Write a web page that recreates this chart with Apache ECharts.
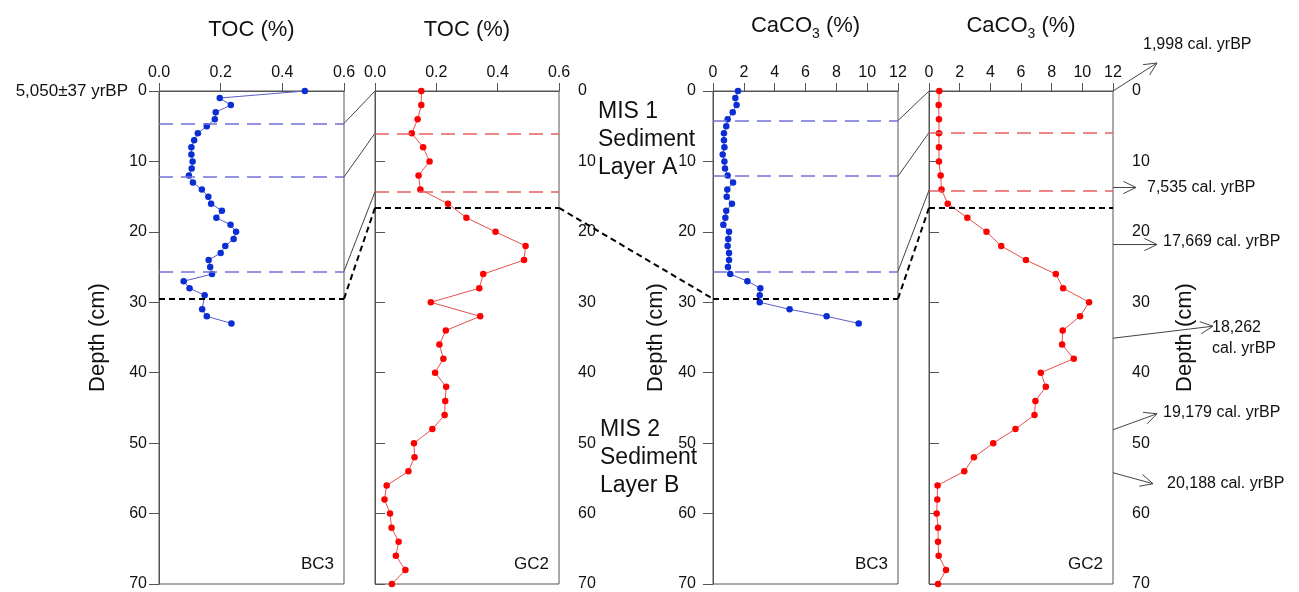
<!DOCTYPE html>
<html>
<head>
<meta charset="utf-8">
<script src="https://cdn.jsdelivr.net/npm/echarts@6/dist/echarts.min.js"></script>
<style>
html,body{margin:0;padding:0;background:#fff;}
#c{width:1299px;height:592px;}
</style>
</head>
<body>
<div id="c"></div>
<script>
// ---------- DATA ----------
const tocBC3Depth = [0,1,2,3,4,5,6,7,8,9,10,11,12,13,14,15,16,17,18,19,20,21,22,23,24,25,26,27,28,29,31,32,33];
const tocBC3 = [0.473,0.197,0.233,0.184,0.181,0.155,0.126,0.114,0.105,0.105,0.109,0.106,0.097,0.110,0.139,0.160,0.169,0.204,0.186,0.232,0.250,0.242,0.215,0.200,0.161,0.166,0.172,0.080,0.099,0.148,0.140,0.155,0.235];

const caco3BC3Depth = [0,1,2,3,4,5,6,7,8,9,10,11,12,13,14,15,16,17,18,19,20,21,22,23,24,25,26,27,28,29,30,31,32,33];
const caco3BC3 = [1.62,1.45,1.53,1.28,0.95,0.86,0.71,0.71,0.74,0.63,0.74,0.78,0.95,1.30,0.93,0.89,1.23,0.86,0.80,0.67,1.04,0.99,0.95,1.04,1.04,0.97,1.12,2.23,3.07,3.03,3.03,4.97,7.37,9.45];

const gc2Depth = [0,2,4,6,8,10,12,14,16,18,20,22,24,26,28,30,32,34,36,38,40,42,44,46,48,50,52,54,56,58,60,62,64,66,68,70];
const tocGC2 = [0.151,0.151,0.139,0.120,0.157,0.178,0.142,0.148,0.238,0.298,0.393,0.491,0.486,0.353,0.340,0.182,0.343,0.231,0.210,0.223,0.196,0.232,0.229,0.227,0.187,0.127,0.129,0.109,0.038,0.031,0.049,0.054,0.077,0.068,0.099,0.055];
const caco3GC2 = [0.67,0.63,0.65,0.65,0.65,0.65,0.76,0.82,1.22,2.50,3.75,4.71,6.32,8.27,8.75,10.44,9.85,8.72,8.68,9.44,7.29,7.62,6.94,6.88,5.64,4.19,2.93,2.30,0.56,0.54,0.50,0.59,0.59,0.63,1.11,0.59];

// unit boundaries (depth, cm)
const bc3UnitsTOC = [4.6, 12.2, 25.6];
const bc3UnitsCaCO3 = [4.2, 12.1, 25.6];
const bc3Boundary = 29.5;
const gc2UnitsTOC = [0, 6.0, 14.3];
const gc2UnitsCaCO3 = [0, 5.9, 14.1];
const gc2Boundary = 16.6;

// tick labels
const tocTicks = [0, 0.2, 0.4, 0.6];
const caco3Ticks = [0, 2, 4, 6, 8, 10, 12];
const depthTicks = [0, 10, 20, 30, 40, 50, 60, 70];

// age annotations (GC2 depth, label)
const ageDepths = [0, 13.7, 21.8, 35.1, 48.1, 54.2];
const ageLabels = ['1,998 cal. yrBP', '7,535 cal. yrBP', '17,669 cal. yrBP', '18,262\ncal. yrBP', '19,179 cal. yrBP', '20,188 cal. yrBP'];
const topAge = '5,050\u00b137 yrBP';

// ---------- CHART ----------
const FONT = "Arial, 'Liberation Sans', sans-serif";
const AX = '#555';
const chart = echarts.init(document.getElementById('c'), null, {renderer: 'canvas'});

const grids = [
  {left: 159, top: 91, width: 185, height: 493},
  {left: 375, top: 91, width: 184, height: 493},
  {left: 713, top: 91, width: 185, height: 493},
  {left: 929, top: 91, width: 184, height: 493}
].map(g => Object.assign({show: true, borderColor: AX, borderWidth: 1, backgroundColor: 'transparent'}, g));

function xAx(i, max, interval, name, fmt) {
  return {
    gridIndex: i, type: 'value', position: 'top', min: 0, max: max, interval: interval,
    axisLine: {show: true, lineStyle: {color: AX}},
    axisTick: {show: true, inside: false, length: 8, lineStyle: {color: AX}},
    axisLabel: {fontSize: 16, color: '#111', fontFamily: FONT, margin: 10, formatter: fmt},
    splitLine: {show: false},
    name: name, nameLocation: 'middle', nameGap: 50,
    nameTextStyle: {fontSize: 22, color: '#111', fontFamily: FONT,
      rich: {a: {fontSize: 22, fontFamily: FONT, color: '#111'},
             s: {fontSize: 14, fontFamily: FONT, color: '#111', padding: [16, 0, 0, 0]}}}
  };
}
function yAx(i, pos, margin, name, gap) {
  return {
    gridIndex: i, type: 'value', inverse: true, min: 0, max: 70, interval: 10, position: pos,
    axisLine: {show: true, lineStyle: {color: AX}},
    axisTick: {show: true, inside: false, length: 10, lineStyle: {color: AX}},
    axisLabel: {fontSize: 16, color: '#111', fontFamily: FONT, margin: margin,
      formatter: v => depthTicks.includes(v) ? String(v) : ''},
    splitLine: {show: false},
    name: name, nameLocation: 'middle', nameGap: gap, nameRotate: 90,
    nameTextStyle: {fontSize: 22, color: '#111', fontFamily: FONT}
  };
}

const tocFmt = v => tocTicks.includes(+v.toFixed(1)) ? v.toFixed(1) : '';
const caFmt = v => caco3Ticks.includes(v) ? String(v) : '';

function dashLines(units, boundary, color) {
  const d = units.filter(u => u > 0).map(u => ({yAxis: u, lineStyle: {color: color, type: [14, 8], width: 1.5}}));
  d.push({yAxis: boundary, lineStyle: {color: '#000', type: [6, 4], width: 2}});
  return {silent: true, symbol: 'none', label: {show: false}, data: d, animation: false};
}

const BLUE_M = '#0a2ed4', BLUE_L = '#5c5cc8', BLUE_D = '#7070d8';
const RED_M = '#ff0000', RED_L = '#e65050', RED_D = '#e86060';

function ser(i, xs, ds, mc, lc, mark) {
  return {
    type: 'line', xAxisIndex: i, yAxisIndex: i,
    data: ds.map((d, k) => [xs[k], d]),
    symbol: 'circle', symbolSize: 6.5, showSymbol: true,
    itemStyle: {color: mc},
    lineStyle: {color: lc, width: 1},
    markLine: mark, z: 3
  };
}

chart.setOption({
  animation: false,
  backgroundColor: '#fff',
  textStyle: {fontFamily: FONT},
  grid: grids,
  xAxis: [
    xAx(0, 0.6, 0.2, 'TOC (%)', tocFmt),
    xAx(1, 0.6, 0.2, 'TOC (%)', tocFmt),
    xAx(2, 12, 2, '{a|CaCO}{s|3}{a| (%)}', caFmt),
    xAx(3, 12, 2, '{a|CaCO}{s|3}{a| (%)}', caFmt)
  ],
  yAxis: [
    yAx(0, 'left', 12, 'Depth (cm)', 50),
    yAx(1, 'right', 19, '', 40),
    yAx(2, 'left', 17, 'Depth (cm)', 46),
    yAx(3, 'right', 19, 'Depth (cm)', 61)
  ],
  series: [
    ser(0, tocBC3, tocBC3Depth, BLUE_M, BLUE_L, dashLines(bc3UnitsTOC, bc3Boundary, BLUE_D)),
    ser(1, tocGC2, gc2Depth, RED_M, RED_L, dashLines(gc2UnitsTOC, gc2Boundary, RED_D)),
    ser(2, caco3BC3, caco3BC3Depth, BLUE_M, BLUE_L, dashLines(bc3UnitsCaCO3, bc3Boundary, BLUE_D)),
    ser(3, caco3GC2, gc2Depth, RED_M, RED_L, dashLines(gc2UnitsCaCO3, gc2Boundary, RED_D))
  ]
});

// ---------- connectors & annotations ----------
function px(i, x, d) { return chart.convertToPixel({xAxisIndex: i, yAxisIndex: i}, [x, d]); }
const G = [];
function seg(a, b, style) {
  G.push({type: 'line', shape: {x1: a[0], y1: a[1], x2: b[0], y2: b[1]}, style: style, silent: true, z: 10});
}
const thin = {stroke: '#444', lineWidth: 1};
const blackDash = {stroke: '#000', lineWidth: 2, lineDash: [6, 4]};

// BC3 -> GC2 correlations
[[0, 1, 0.6, bc3UnitsTOC], [2, 3, 12, bc3UnitsCaCO3]].forEach(([a, b, maxA, units], k) => {
  const gUnits = k === 0 ? gc2UnitsTOC : gc2UnitsCaCO3;
  units.forEach((u, j) => seg(px(a, maxA, u), px(b, 0, gUnits[j]), thin));
  seg(px(a, maxA, bc3Boundary), px(b, 0, gc2Boundary), blackDash);
});
// long boundary from GC2 TOC to BC3 CaCO3
seg(px(1, 0.6, gc2Boundary), px(2, 0, bc3Boundary), blackDash);

// age arrows on the right of GC2 CaCO3
const arrowEnd = [[44, -28], [23, 0], [44, 0], [100, -12], [44, -16], [40, 11]];
const labelPos = [[1143, 45], [1147, 188], [1163, 242], [1212, 338], [1163, 413], [1167, 484]];
function arrow(a, b) {
  seg(a, b, thin);
  const ang = Math.atan2(b[1] - a[1], b[0] - a[0]);
  const L = 14, w = 0.45;
  const p1 = [b[0] - L * Math.cos(ang - w), b[1] - L * Math.sin(ang - w)];
  const p2 = [b[0] - L * Math.cos(ang + w), b[1] - L * Math.sin(ang + w)];
  G.push({type: 'polyline', shape: {points: [p1, b, p2]}, style: {stroke: '#444', lineWidth: 1, fill: null}, silent: true, z: 10});
}
ageDepths.forEach((d, k) => {
  const s = px(3, 12, d);
  arrow(s, [s[0] + arrowEnd[k][0], s[1] + arrowEnd[k][1]]);
  G.push({type: 'text', x: labelPos[k][0], y: labelPos[k][1], silent: true, z: 11,
    style: {text: ageLabels[k], fontSize: 16, fontFamily: FONT, fill: '#111',
      lineHeight: 21, align: 'left', verticalAlign: 'middle'}});
});

// top age of BC3
const t0 = px(0, 0, 0);
G.push({type: 'text', x: 128, y: t0[1], silent: true, z: 11,
  style: {text: topAge, fontSize: 17, fontFamily: FONT, fill: '#111', align: 'right', verticalAlign: 'middle'}});

// core labels
[['BC3', 0, 0.6], ['GC2', 1, 0.6], ['BC3', 2, 12], ['GC2', 3, 12]].forEach(([t, i, mx]) => {
  const p = px(i, mx, 70);
  G.push({type: 'text', x: p[0] - 10, y: p[1] - 20, silent: true, z: 11,
    style: {text: t, fontSize: 17, fontFamily: FONT, fill: '#111', align: 'right', verticalAlign: 'middle'}});
});

// MIS labels
G.push({type: 'text', x: 598, y: 98, silent: true, z: 11,
  style: {text: 'MIS 1\nSediment\nLayer A', fontSize: 23, lineHeight: 28, fontFamily: FONT, fill: '#111', align: 'left', verticalAlign: 'top'}});
G.push({type: 'text', x: 600, y: 416, silent: true, z: 11,
  style: {text: 'MIS 2\nSediment\nLayer B', fontSize: 23, lineHeight: 28, fontFamily: FONT, fill: '#111', align: 'left', verticalAlign: 'top'}});

chart.setOption({graphic: G});
</script>
</body>
</html>
